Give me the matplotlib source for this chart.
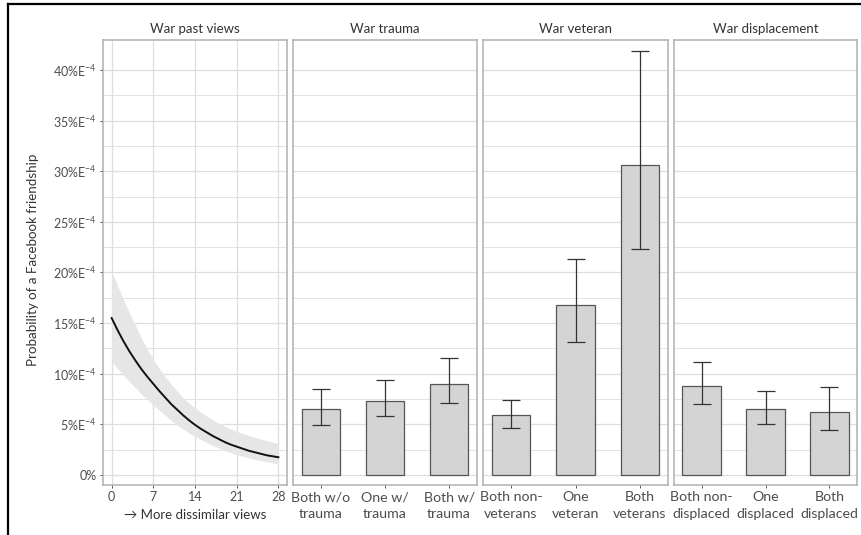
import matplotlib
matplotlib.use("Agg")
import matplotlib.pyplot as plt
from matplotlib.lines import Line2D
import numpy as np

plt.rcParams["font.family"] = ["Lato", "DejaVu Sans"]
plt.rcParams["mathtext.default"] = "regular"

# values are in units of 1e-4 percent (axis labels read "5%E-4" etc.)
views_x = list(range(29))
views_fit = [15.5, 14.3, 13.2, 12.2, 11.3, 10.45, 9.7, 9.0, 8.3, 7.65, 7.0, 6.45, 5.9, 5.4, 4.95,
             4.55, 4.2, 3.85, 3.55, 3.25, 3.0, 2.8, 2.6, 2.4, 2.25, 2.1, 1.95, 1.85, 1.75]
views_hi = [20.1, 18.7, 17.3, 16.0, 14.8, 13.5, 12.4, 11.4, 10.5, 9.7, 8.95, 8.3, 7.65, 7.1, 6.6,
            6.2, 5.8, 5.45, 5.1, 4.8, 4.55, 4.3, 4.1, 3.9, 3.7, 3.55, 3.4, 3.25, 3.1]
views_lo = [11.2, 10.5, 9.85, 9.2, 8.6, 8.0, 7.45, 6.9, 6.4, 5.9, 5.4, 4.95, 4.55, 4.15, 3.8,
            3.5, 3.2, 2.9, 2.65, 2.4, 2.2, 2.0, 1.85, 1.7, 1.55, 1.45, 1.3, 1.2, 1.1]

trauma_labels = ["Both w/o\ntrauma", "One w/\ntrauma", "Both w/\ntrauma"]
trauma_val = [6.5, 7.35, 9.0]
trauma_lo = [4.95, 5.85, 7.1]
trauma_hi = [8.45, 9.4, 11.6]

veteran_labels = ["Both non-\nveterans", "One\nveteran", "Both\nveterans"]
veteran_val = [5.95, 16.8, 30.6]
veteran_lo = [4.65, 13.1, 22.35]
veteran_hi = [7.4, 21.3, 41.9]

displ_labels = ["Both non-\ndisplaced", "One\ndisplaced", "Both\ndisplaced"]
displ_val = [8.8, 6.5, 6.2]
displ_lo = [7.0, 5.05, 4.4]
displ_hi = [11.15, 8.3, 8.7]

y_ticks = [0, 5, 10, 15, 20, 25, 30, 35, 40]
y_tick_labels = ["0%"] + [f"{v}%E$^{{-4}}$" for v in y_ticks[1:]]

W, H = 861, 535
GRID = "#dedede"
BORDER = "#b0b0b0"
TXT = "#4d4d4d"


def px_axes(fig, x0, x1, top=40, bottom=485):
    return fig.add_axes([x0 / W, (H - bottom) / H, (x1 - x0) / W, (bottom - top) / H])


def style(ax, title):
    ax.set_ylim(-0.99, 42.96)
    ax.set_yticks(y_ticks)
    ax.set_yticks(np.arange(2.5, 42.5, 5), minor=True)
    ax.grid(axis="y", which="major", color=GRID, lw=0.9, zorder=0)
    ax.grid(axis="y", which="minor", color=GRID, lw=0.6, zorder=0)
    for sp in ax.spines.values():
        sp.set_color(BORDER)
        sp.set_linewidth(1.1)
    ax.tick_params(axis="both", which="major", length=2.5, width=0.7, color="#555555",
                   labelsize=9, labelcolor=TXT, pad=2)
    ax.tick_params(axis="y", which="minor", length=0)
    ax.set_title(title, fontsize=9.5, color="#333333", pad=5)
    ax.set_axisbelow(True)


fig = plt.figure(figsize=(W / 100, H / 100), dpi=100)

# panel 1: continuous predicted curve with its confidence ribbon
ax1 = px_axes(fig, 103, 287)
style(ax1, "War past views")
ax1.fill_between(views_x, views_lo, views_hi, color="#e6e6e6", lw=0, zorder=1)
ax1.plot(views_x, views_fit, color="#111111", lw=1.4, zorder=2)
ax1.set_xlim(-1.45, 29.45)
ax1.set_xticks([0, 7, 14, 21, 28])
ax1.grid(axis="x", color=GRID, lw=0.9, zorder=0)
ax1.set_yticklabels(y_tick_labels)
ax1.set_xlabel("\u2192 More dissimilar views", fontsize=9.5, color="#333333", labelpad=4)

panels = [
    (293.3, 476.7, "War trauma", trauma_labels, trauma_val, trauma_lo, trauma_hi),
    (483.3, 667.7, "War veteran", veteran_labels, veteran_val, veteran_lo, veteran_hi),
    (674, 857, "War displacement", displ_labels, displ_val, displ_lo, displ_hi),
]
for x0, x1, title, labels, val, lo, hi in panels:
    ax = px_axes(fig, x0, x1)
    style(ax, title)
    pos = np.arange(1, len(val) + 1)
    ax.bar(pos, val, width=0.6, color="#d4d4d4", edgecolor="#555555", lw=0.9, zorder=2)
    val_a = np.array(val)
    yerr = [val_a - np.array(lo), np.array(hi) - val_a]
    ax.errorbar(pos, val, yerr=yerr, fmt="none", ecolor="#333333", elinewidth=0.9,
                capsize=6.3, capthick=0.9, zorder=3)
    ax.set_xlim(0.57, 3.43)
    ax.set_xticks(pos)
    ax.set_xticklabels(labels, linespacing=1.45, fontsize=10.2)
    ax.tick_params(axis="y", which="both", left=False, labelleft=False)

fig.text(33 / W, (H - 260) / H, "Probability of a Facebook friendship", rotation=90,
         ha="center", va="center", fontsize=9.6, color="#333333")

# black frame on the top and left edges (image is cropped on the other sides)
fig.add_artist(Line2D([8 / W, 1], [1 - 4 / H, 1 - 4 / H], color="black", lw=1.6))
fig.add_artist(Line2D([8 / W, 8 / W], [0, 1 - 4 / H], color="black", lw=1.6))

fig.savefig("out.png", dpi=100)
